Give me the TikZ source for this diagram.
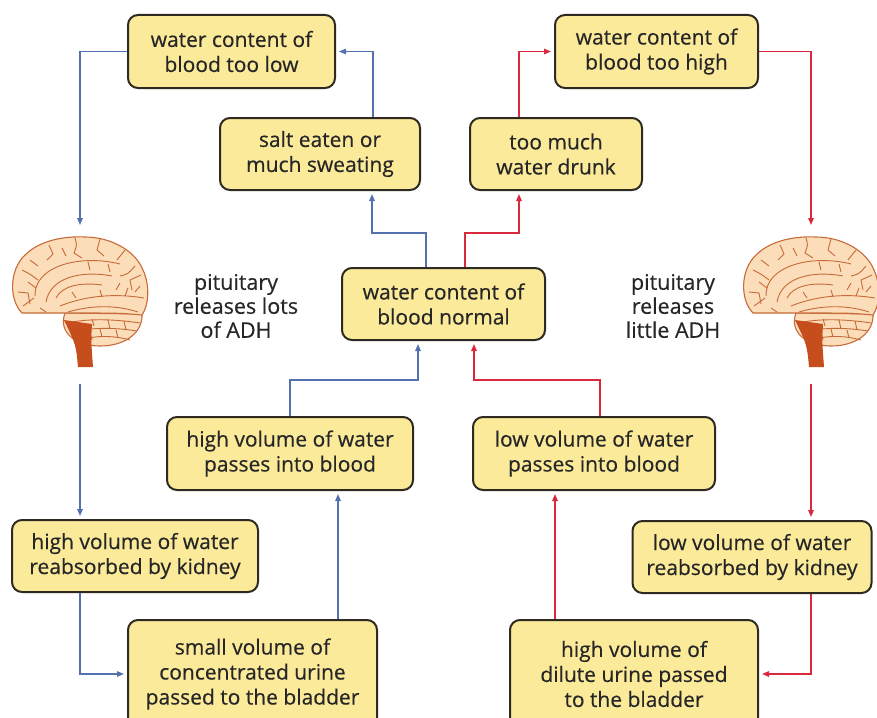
\documentclass[tikz,border=0pt]{standalone}
\usepackage{fontspec}
\setmainfont{Open Sans}
\newfontfamily\rotulo{Open Sans}[FakeBold=0.4]
\usetikzlibrary{arrows.meta}

\definecolor{caja}{HTML}{FBEA9A}
\definecolor{borde}{HTML}{2E2A22}
\definecolor{azul}{HTML}{5271AE}
\definecolor{rojo}{HTML}{D8293F}
\definecolor{piel}{HTML}{FCDDBA}
\definecolor{surco}{HTML}{C66B38}
\definecolor{tallo}{HTML}{C64E1C}
\definecolor{texto}{HTML}{262626}

\tikzset{
  cerebro/.pic={
    % cerebelo
    \filldraw[fill=piel, draw=surco, line width=1.1pt]
      (-15,13) .. controls (-22,32) and (-5,46) .. (20,46)
      .. controls (46,46) and (63,32) .. (62,14) -- cycle;
    \draw[surco, line width=0.9pt]
      (-8,22) .. controls (15,18) and (40,20) .. (60,23)
      (-4,31) .. controls (18,27) and (38,28) .. (57,31)
      (4,39) .. controls (20,35) and (36,36) .. (50,40)
      (12,19) -- (14,26) (28,20) -- (30,29) (44,21) -- (46,30)
      (20,29) -- (22,37) (36,30) -- (38,38) (10,32) -- (12,40);
    % tronco
    \fill[tallo] (-16,20) -- (12,24) .. controls (11,40) .. (13,67)
      -- (-2,67) .. controls (-4,45) .. (-16,20) -- cycle;
    % hemisferio
    \filldraw[fill=piel, draw=surco, line width=1.1pt]
      (-58,13) .. controls (-71,0) and (-71,-30) .. (-55,-45)
      .. controls (-40,-60) and (-15,-64) .. (5,-63)
      .. controls (30,-63) and (55,-50) .. (63,-30)
      .. controls (70,-15) and (69,5) .. (62,15)
      .. controls (40,13) .. (-15,13) -- cycle;
    % circunvoluciones
    \draw[surco, line width=0.9pt, line join=round]
      (-45,-4) .. controls (-46,-34) and (0,-46) .. (40,-36)
      (-34,2) .. controls (-30,-22) and (0,-30) .. (32,-24)
      (-24,-2) .. controls (-18,-14) and (0,-18) .. (22,-15)
      (-20,6) .. controls (10,-6) and (40,-6) .. (64,-2)
      (-12,12) .. controls (15,4) and (40,6) .. (58,12)
      (-58,-30) .. controls (-50,-26) .. (-42,-20)
      (-31,-55) -- (-27,-46) -- (-33,-40)
      (-5,-62) .. controls (-3,-55) .. (-6,-47) -- (2,-42)
      (20,-61) -- (17,-50) -- (24,-44)
      (45,-50) -- (37,-40) (61,-25) -- (50,-20) -- (52,-10)
      (-62,-8) -- (-52,-7) -- (-50,4) (-57,6) -- (-46,-2)
      (-50,-40) -- (-42,-34) (-18,-52) -- (-14,-44)
      (8,-38) -- (10,-30) (28,-36) -- (30,-28)
      (40,-24) .. controls (48,-26) .. (55,-34)
      (36,-10) -- (40,-17) (20,-10) -- (22,-3)
      (-8,-8) -- (-4,-2)
      (48,-12) -- (45,-4) (55,-8) -- (60,-14)
      (-40,8) -- (-34,12) (-52,-18) -- (-44,-12);
  }
}

\begin{document}
\begin{tikzpicture}[x=1pt, y=-1pt,
    >={Triangle[length=7pt, width=5.5pt]},
    caja/.style={draw=borde, fill=caja, line width=2pt, rounded corners=10pt,
      align=center, text=texto, inner sep=2pt,
      font=\rotulo\fontsize{21}{25}\selectfont},
    etiqueta/.style={align=center, text=texto,
      font=\rotulo\fontsize{21.5}{24}\selectfont},
    azularr/.style={->, azul, line width=1.4pt, shorten >=3pt},
    rojoarr/.style={->, rojo, line width=1.4pt, shorten >=3pt}]
  \useasboundingbox (0,0) rectangle (877,717);

  % cajas de arriba
  \node[caja, minimum width=207pt, minimum height=73pt] (bajo) at (231.5,51.5) {water content of\\blood too low};
  \node[caja, minimum width=203pt, minimum height=73pt] (alto) at (656.5,51.5) {water content of\\blood too high};
  \node[caja, minimum width=200pt, minimum height=72pt] (sal) at (320,154) {salt eaten or\\much sweating};
  \node[caja, minimum width=172pt, minimum height=72pt] (mucha) at (556,154) {too much\\water drunk};
  \node[caja, minimum width=203pt, minimum height=72pt] (normal) at (443.5,304) {water content of\\blood normal};

  % cajas de abajo
  \node[caja, minimum width=246pt, minimum height=73pt] (pasaalto) at (290,453.5) {high volume of water\\passes into blood};
  \node[caja, minimum width=242pt, minimum height=73pt] (pasabajo) at (594,453.5) {low volume of water\\passes into blood};
  \node[caja, minimum width=246pt, minimum height=72pt] (reabalto) at (135,556) {high volume of water\\reabsorbed by kidney};
  \node[caja, minimum width=239pt, minimum height=72pt] (reabbajo) at (752,557) {low volume of water\\reabsorbed by kidney};
  \node[caja, minimum width=249pt, minimum height=108pt] (orinapoca) at (252.5,674) {small volume of\\concentrated urine\\passed to the bladder};
  \node[caja, minimum width=248pt, minimum height=108pt] (orinamucha) at (634,674) {high volume of\\dilute urine passed\\to the bladder};

  % hipofisis
  \pic at (80,300) {cerebro};
  \pic at (811,300) {cerebro};
  \coordinate (cerLarr) at (80,228);
  \coordinate (cerLab) at (80,384);
  \coordinate (cerRarr) at (811,228);
  \coordinate (cerRab) at (811,384);
  \node[etiqueta] (adhL) at (236,306) {pituitary\\releases lots\\of ADH};
  \node[etiqueta] (adhR) at (673,306) {pituitary\\releases\\little ADH};

  % lazo azul
  \draw[azularr] ([xshift=-17.5pt]normal.north) |- ([xshift=52pt,yshift=-42pt]sal.south) -- ([xshift=52pt]sal.south);
  \draw[azularr] ([xshift=53pt]sal.north) |- (bajo.east);
  \draw[azularr] (bajo.west) -| (cerLarr);
  \draw[azularr] (cerLab) -- (cerLab |- reabalto.north);
  \draw[azularr] (reabalto.south -| cerLab) |- (orinapoca.west);
  \draw[azularr] ([xshift=85.5pt]orinapoca.north) -- ([xshift=85.5pt]orinapoca.north |- pasaalto.south);
  \draw[azularr] (pasaalto.north) |- ([xshift=-25.5pt,yshift=-39pt]normal.south) -- ([xshift=-25.5pt]normal.south);

  % lazo rojo
  \draw[rojoarr] ([xshift=21.5pt]normal.north) |- ([xshift=-37pt,yshift=-42pt]mucha.south) -- ([xshift=-37pt]mucha.south);
  \draw[rojoarr] ([xshift=-37pt]mucha.north) |- (alto.west);
  \draw[rojoarr] (alto.east) -| (cerRarr);
  \draw[rojoarr] (cerRab) -- (cerRab |- reabbajo.north);
  \draw[rojoarr] (reabbajo.south -| cerRab) |- (orinamucha.east);
  \draw[rojoarr] ([xshift=-79pt]orinamucha.north) -- ([xshift=-79pt]orinamucha.north |- pasabajo.south);
  \draw[rojoarr] ([xshift=6pt]pasabajo.north) |- ([xshift=30.5pt,yshift=-39pt]normal.south) -- ([xshift=30.5pt]normal.south);
\end{tikzpicture}
\end{document}
